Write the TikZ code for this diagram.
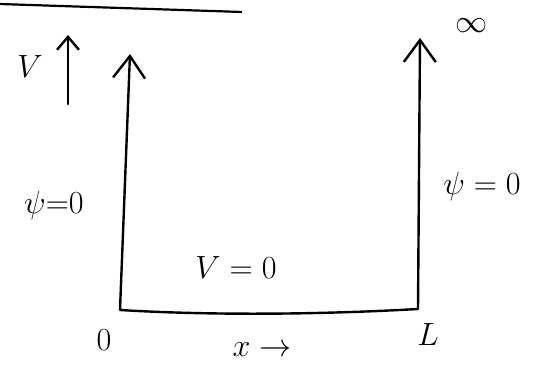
\documentclass[tikz,border=0pt]{standalone}
\usetikzlibrary{arrows.meta}
\begin{document}
\begin{tikzpicture}[x=1pt,y=-1pt,
  wall/.style={line width=2.4pt,line cap=round,-{Straight Barb[length=22pt,width=32pt,line width=2.4pt]}},
  small/.style={line width=2.4pt,line cap=round,-{Straight Barb[length=13pt,width=22pt,line width=2.4pt]}},
  lbl/.style={inner sep=0pt,font=\huge,scale=1.55}]
\useasboundingbox (0,0) rectangle (549,369);
% coordinates
\coordinate (tl0) at (0,4);
\coordinate (tl1) at (242,12);
\coordinate (O) at (120,310);
\coordinate (Ltop) at (130,54);
\coordinate (R) at (418,309);
\coordinate (Rtop) at (420,38);
\coordinate (vb) at (68,104);
\coordinate (vt) at (68,35);
% lines
\draw[line width=2.2pt] (tl0) -- (tl1);
\draw[wall] (O) -- (Ltop);
\draw[wall] (R) -- (Rtop);
\draw[line width=2.4pt] (O) .. controls (220,316) and (330,314) .. (R);
\draw[small] (vb) -- (vt);
% labels
\node[lbl] (V) at (30,67) {$V$};
\node[lbl] (inf) at (472,26) {$\infty$};
\node[lbl] (psiL) at (54,205) {$\psi{=}0$};
\node[lbl] (psiR) at (482,186) {$\psi=0$};
\node[lbl] (V0) at (236,268) {$V=0$};
\node[lbl] (zero) at (104,340) {$0$};
\node[lbl] (xarr) at (262,350) {$x\rightarrow$};
\node[lbl] (L) at (428,335) {$L$};
\end{tikzpicture}
\end{document}
